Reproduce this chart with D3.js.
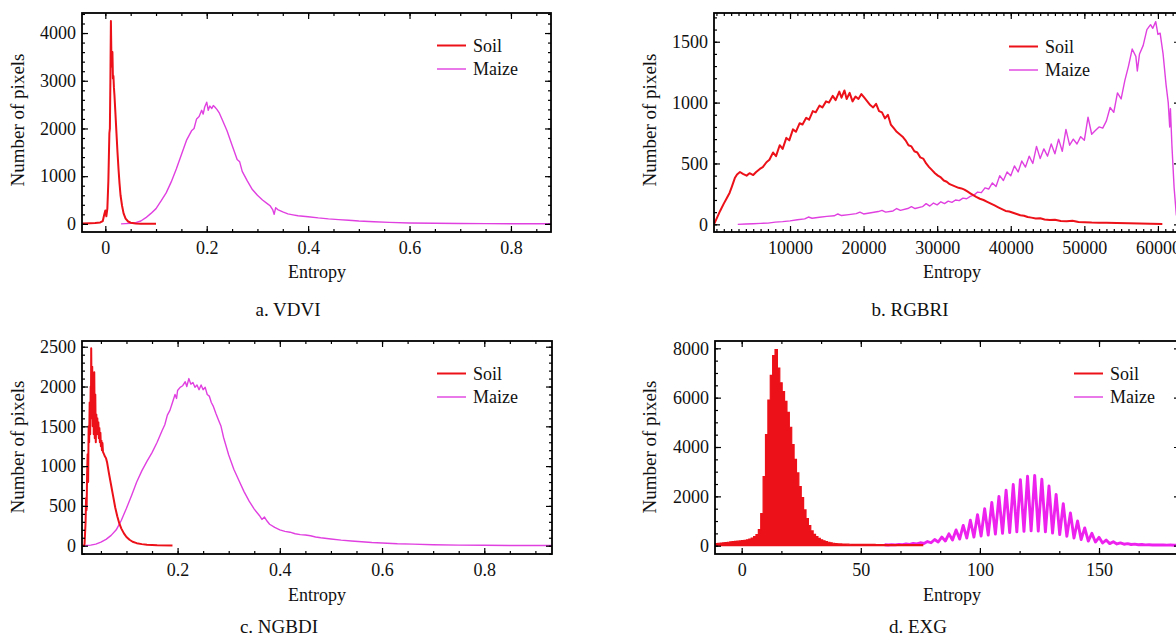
<!DOCTYPE html>
<html>
<head>
<meta charset="utf-8">
<script src="https://cdn.jsdelivr.net/npm/d3@7"></script>
<style>
  body { margin: 0; background: #fff; }
  svg { display: block; font-family: "Liberation Serif", "Times New Roman", serif; }
</style>
</head>
<body>
<svg id="chart" width="1176" height="639"></svg>
<script>
// ---- data ----
var seriesNames = ["Soil", "Maize"];
var captions = ["a. VDVI", "b. RGBRI", "c. NGBDI", "d. EXG"];
var xTitle = "Entropy";
var yTitle = "Number of pixels";

var vdviXTicks = [0, 0.2, 0.4, 0.6, 0.8];
var vdviYTicks = [0, 1000, 2000, 3000, 4000];
var rgbriXTicks = [10000, 20000, 30000, 40000, 50000, 60000];
var rgbriYTicks = [0, 500, 1000, 1500];
var ngbdiXTicks = [0.2, 0.4, 0.6, 0.8];
var ngbdiYTicks = [0, 500, 1000, 1500, 2000, 2500];
var exgXTicks = [0, 50, 100, 150];
var exgYTicks = [0, 2000, 4000, 6000, 8000];

var vdviSoil = [[-0.046, 10], [-0.03, 15], [-0.02, 20], [-0.01, 30], [-0.005, 60], [-0.002, 200], [0.0, 280],
  [0.002, 160], [0.004, 320], [0.006, 900], [0.007, 1400], [0.008, 1900], [0.009, 2000], [0.010, 3000],
  [0.011, 4250], [0.012, 3500], [0.013, 3300], [0.014, 3600], [0.015, 3050], [0.016, 3100], [0.017, 2850],
  [0.018, 2700], [0.020, 2300], [0.022, 1900], [0.024, 1500], [0.026, 1150], [0.028, 850], [0.030, 600],
  [0.033, 380], [0.036, 220], [0.040, 110], [0.045, 50], [0.050, 25], [0.060, 10], [0.070, 5], [0.080, 3],
  [0.090, 2], [0.100, 2]];

var vdviMaize = [[0.031, 0], [0.04, 5], [0.05, 12], [0.06, 25], [0.07, 60], [0.08, 130], [0.09, 220], [0.10, 320],
  [0.11, 480], [0.12, 650], [0.13, 880], [0.14, 1150], [0.15, 1450], [0.16, 1750], [0.165, 1850], [0.17, 1950],
  [0.175, 2000], [0.18, 2200], [0.185, 2250], [0.19, 2380], [0.193, 2300], [0.196, 2450], [0.2, 2550],
  [0.203, 2380], [0.206, 2470], [0.21, 2420], [0.213, 2480], [0.216, 2450], [0.22, 2400], [0.225, 2320],
  [0.23, 2200], [0.24, 1950], [0.25, 1650], [0.26, 1350], [0.265, 1300], [0.27, 1100], [0.28, 900], [0.29, 720],
  [0.30, 600], [0.31, 500], [0.32, 420], [0.325, 380], [0.33, 300], [0.333, 200], [0.336, 340], [0.34, 300],
  [0.35, 250], [0.36, 210], [0.37, 190], [0.38, 170], [0.40, 150], [0.42, 125], [0.44, 105], [0.46, 90],
  [0.48, 75], [0.50, 60], [0.53, 45], [0.56, 32], [0.60, 20], [0.65, 12], [0.70, 8], [0.75, 5], [0.80, 3],
  [0.879, 2]];

var rgbriSoil = [[-330, 0], [500, 110], [1000, 170], [1400, 215], [1800, 260], [2100, 310], [2500, 380], [2800, 410],
  [3200, 430], [3600, 415], [4100, 400], [4500, 420], [5000, 405], [5400, 430], [5900, 455], [6300, 470],
  [6800, 510], [7200, 530], [7700, 590], [8100, 560], [8600, 650], [9000, 620], [9500, 710], [9900, 690],
  [10400, 780], [10800, 760], [11300, 830], [11700, 820], [12200, 875], [12600, 860], [13100, 930], [13500, 920],
  [14000, 975], [14400, 960], [14900, 1010], [15300, 1000], [15800, 1055], [16200, 1020], [16700, 1090],
  [17000, 1040], [17400, 1100], [17700, 1030], [18100, 1080], [18500, 1010], [18900, 1050], [19300, 1030],
  [19700, 1070], [20100, 1040], [20500, 1010], [20900, 980], [21300, 960], [21700, 990], [22100, 930],
  [22500, 920], [22900, 870], [23300, 900], [23700, 820], [24100, 790], [24500, 760], [24900, 740],
  [25300, 720], [25700, 690], [26100, 650], [26500, 640], [26900, 600], [27300, 590], [27700, 550],
  [28100, 540], [28500, 500], [28900, 470], [29300, 445], [29700, 420], [30100, 400], [30500, 385],
  [30900, 360], [31300, 350], [31700, 330], [32100, 320], [32500, 310], [32900, 300], [33300, 295],
  [33700, 285], [34100, 270], [34500, 255], [34900, 240], [35300, 225], [35800, 210], [36300, 200],
  [36800, 185], [37300, 170], [37800, 155], [38300, 140], [38800, 125], [39300, 110], [39800, 105],
  [40300, 95], [40800, 85], [41300, 75], [41800, 70], [42300, 60], [42800, 55], [43400, 48], [44000, 50],
  [44600, 40], [45300, 35], [46000, 38], [46800, 28], [47600, 25], [48400, 30], [49200, 20], [50000, 18],
  [51000, 15], [52000, 14], [53000, 12], [54400, 10], [56000, 8], [57500, 6], [59000, 4], [60600, 3]];

var rgbriMaize = [[2900, 0], [4000, 3], [5000, 5], [6000, 8], [7000, 10], [8000, 18], [9000, 22], [10000, 28],
  [11000, 38], [12000, 45], [12500, 60], [13000, 50], [14000, 58], [15000, 65], [16000, 70], [16500, 85],
  [17000, 72], [18000, 80], [19000, 88], [19500, 100], [20000, 85], [21000, 95], [22000, 105], [22500, 115],
  [23000, 100], [24000, 110], [24500, 130], [25000, 115], [26000, 130], [26500, 145], [27000, 130],
  [28000, 145], [28500, 170], [29000, 150], [29500, 175], [30000, 160], [30500, 185], [31000, 170],
  [31500, 190], [32000, 180], [32500, 200], [33000, 195], [33500, 215], [34000, 210], [34500, 230],
  [35000, 240], [35500, 265], [36000, 260], [36500, 300], [37000, 290], [37500, 340], [38000, 310],
  [38500, 400], [39000, 360], [39500, 430], [40000, 400], [40500, 480], [41000, 430], [41500, 520],
  [42000, 470], [42500, 560], [43000, 500], [43500, 640], [44000, 540], [44500, 620], [45000, 560],
  [45500, 660], [46000, 580], [46500, 700], [47000, 600], [47500, 780], [48000, 650], [48500, 700],
  [49000, 660], [49500, 720], [50000, 690], [50500, 880], [51000, 740], [51500, 770], [52000, 800],
  [52500, 790], [53000, 850], [53500, 960], [54000, 920], [54500, 1080], [55000, 1030], [55500, 1180],
  [56000, 1300], [56500, 1440], [57000, 1380], [57200, 1260], [57500, 1400], [58000, 1470], [58500, 1600],
  [59000, 1640], [59300, 1610], [59700, 1665], [60000, 1560], [60300, 1570], [60700, 1400], [61100, 1150],
  [61400, 1000], [61600, 800], [61700, 950], [61900, 650], [62200, 300], [62500, 80], [62800, 0]];

var ngbdiSoil = [[0.013, 0], [0.0165, 0], [0.018, 20], [0.020, 300], [0.021, 600], [0.022, 450], [0.023, 900],
  [0.024, 1150], [0.025, 800], [0.026, 1500], [0.027, 1300], [0.028, 1800], [0.029, 1400], [0.030, 2000],
  [0.0305, 1600], [0.031, 2480], [0.032, 1700], [0.033, 2250], [0.034, 1500], [0.035, 2150], [0.036, 1400],
  [0.037, 2180], [0.038, 1350], [0.039, 1900], [0.040, 1300], [0.041, 1650], [0.042, 1450], [0.043, 1600],
  [0.044, 1400], [0.045, 1550], [0.046, 1350], [0.047, 1480], [0.048, 1300], [0.049, 1420], [0.050, 1250],
  [0.051, 1320], [0.052, 1200], [0.053, 1290], [0.054, 1180], [0.056, 1150], [0.058, 1120], [0.060, 1100],
  [0.062, 1050], [0.066, 900], [0.070, 760], [0.074, 620], [0.078, 480], [0.082, 370], [0.086, 280],
  [0.090, 215], [0.095, 155], [0.100, 110], [0.106, 75], [0.112, 50], [0.120, 32], [0.130, 20], [0.140, 12],
  [0.160, 6], [0.190, 3]];

var ngbdiMaize = [[0.013, 0], [0.02, 2], [0.03, 8], [0.04, 20], [0.05, 45], [0.06, 80], [0.07, 130], [0.08, 200],
  [0.09, 320], [0.10, 470], [0.11, 630], [0.12, 800], [0.13, 940], [0.14, 1060], [0.15, 1170], [0.16, 1300],
  [0.17, 1450], [0.175, 1520], [0.18, 1640], [0.185, 1700], [0.19, 1800], [0.195, 1900], [0.198, 1850],
  [0.2, 1950], [0.205, 1990], [0.21, 2010], [0.215, 2060], [0.218, 2000], [0.222, 2100], [0.226, 2030],
  [0.23, 2050], [0.234, 1990], [0.238, 2020], [0.242, 1960], [0.246, 2020], [0.25, 1960], [0.254, 1990],
  [0.258, 1900], [0.262, 1880], [0.266, 1800], [0.27, 1750], [0.275, 1660], [0.28, 1580], [0.285, 1500],
  [0.29, 1360], [0.295, 1250], [0.30, 1140], [0.31, 960], [0.32, 820], [0.33, 680], [0.34, 560], [0.35, 460],
  [0.36, 380], [0.365, 330], [0.37, 360], [0.375, 310], [0.38, 270], [0.39, 230], [0.40, 200], [0.41, 180],
  [0.42, 170], [0.43, 150], [0.44, 140], [0.45, 135], [0.46, 125], [0.47, 110], [0.48, 100], [0.50, 85],
  [0.52, 70], [0.54, 60], [0.56, 50], [0.58, 40], [0.60, 35], [0.63, 25], [0.66, 20], [0.70, 12], [0.75, 8],
  [0.80, 5], [0.85, 3], [0.9325, 2]];

// EXG soil histogram: one count per integer bin from -11 to 76
var exgSoilBins = d3.range(-11, 77);
var exgSoilCounts = [
  90, 100, 110, 120, 130, 140, 155, 165, 175, 185,
  195, 205, 220, 240, 270, 310, 370, 450, 650, 1300,
  2800, 4500, 5900, 6900, 7700, 7950, 7200, 6600, 6250, 5850,
  5400, 4800, 4100, 3500, 2950, 2400, 1950, 1450, 1100, 820,
  600, 460, 370, 300, 240, 200, 165, 140, 120, 100,
  90, 80, 72, 68, 65, 62, 60, 58, 57, 56,
  55, 54, 54, 53, 52, 52, 51, 50, 50, 49,
  48, 48, 47, 47, 46, 46, 45, 45, 44, 44,
  43, 43, 42, 42, 41, 41, 40, 40];

// EXG maize: comb-shaped histogram, upper peaks and the troughs between them
var exgMaizePeaks = [[60, 40], [63, 45], [66, 55], [69, 70], [72, 90], [75, 120], [78, 170], [81, 250], [84, 350],
  [87, 480], [90, 640], [93, 820], [96, 1030], [99, 1260], [102, 1500], [105, 1750], [108, 2000], [111, 2250],
  [114, 2480], [117, 2680], [120, 2820], [123, 2850], [126, 2700], [129, 2420], [132, 2080], [135, 1700],
  [138, 1330], [141, 1000], [144, 720], [147, 500], [150, 340], [153, 230], [156, 160], [159, 115], [162, 85],
  [165, 65], [168, 50], [171, 40], [174, 35], [177, 30], [180, 28], [183, 25], [186, 22]];
var exgMaizeTroughs = [[61.5, 30], [64.5, 35], [67.5, 42], [70.5, 55], [73.5, 70], [76.5, 90], [79.5, 120],
  [82.5, 150], [85.5, 190], [88.5, 230], [91.5, 270], [94.5, 310], [97.5, 350], [100.5, 390], [103.5, 430],
  [106.5, 470], [109.5, 500], [112.5, 530], [115.5, 560], [118.5, 580], [121.5, 600], [124.5, 590],
  [127.5, 560], [130.5, 510], [133.5, 450], [136.5, 380], [139.5, 310], [142.5, 250], [145.5, 190],
  [148.5, 150], [151.5, 110], [154.5, 85], [157.5, 70], [160.5, 60], [163.5, 48], [166.5, 40], [169.5, 34],
  [172.5, 30], [175.5, 26], [178.5, 24], [181.5, 21], [184.5, 19]];

var soilColor = "#ec1018";
var maizeColor = "#e040e0";

// ---- drawing ----
var svg = d3.select("#chart");
var fmt = function (d) { return String(d); };

function minorTicks(domain, step) {
  return d3.range(Math.ceil(domain[0] / step - 1e-9), Math.floor(domain[1] / step + 1e-9) + 1)
    .map(function (k) { return +(k * step).toFixed(6); });
}

function styleAxis(sel) {
  sel.select(".domain").remove();
  sel.selectAll(".tick line").attr("stroke", "#000").attr("stroke-width", 1.2);
  sel.selectAll("text").attr("font-family", "Liberation Serif, Times New Roman, serif")
    .attr("font-size", 18).attr("fill", "#111");
  sel.attr("font-family", null).attr("font-size", null);
}

function drawPanel(p) {
  var left = p.box[0], right = p.box[1], top = p.box[2], bottom = p.box[3];
  var x = d3.scaleLinear().domain(p.xDomain).range([left, right]);
  var y = d3.scaleLinear().domain(p.yDomain).range([bottom, top]);
  var g = svg.append("g");

  g.append("clipPath").attr("id", "clip-" + p.id)
    .append("rect").attr("x", left).attr("y", top)
    .attr("width", right - left).attr("height", bottom - top);
  var plot = g.append("g").attr("clip-path", "url(#clip-" + p.id + ")");

  var line = d3.line().x(function (d) { return x(d[0]); }).y(function (d) { return y(d[1]); });

  p.series.forEach(function (s) {
    if (s.kind === "step") {
      var area = d3.area().curve(d3.curveStepAfter)
        .x(function (d) { return x(d[0]); }).y0(y(0)).y1(function (d) { return y(d[1]); });
      plot.append("path").datum(s.data).attr("d", area)
        .attr("fill", s.color).attr("stroke", s.color).attr("stroke-width", 1.2);
    } else {
      plot.append("path").datum(s.data).attr("d", line)
        .attr("fill", "none").attr("stroke", s.color).attr("stroke-width", s.width)
        .attr("stroke-linejoin", "round");
    }
  });

  var xMinor = minorTicks(p.xDomain, p.xMinor);
  var yMinor = minorTicks(p.yDomain, p.yMinor);

  // bottom
  g.append("g").attr("transform", "translate(0," + bottom + ")")
    .call(d3.axisBottom(x).tickValues(p.xTicks).tickFormat(fmt).tickSizeInner(-6).tickSizeOuter(0).tickPadding(9))
    .call(styleAxis);
  g.append("g").attr("transform", "translate(0," + bottom + ")")
    .call(d3.axisBottom(x).tickValues(xMinor).tickFormat("").tickSizeInner(-3).tickSizeOuter(0))
    .call(styleAxis);
  // top
  g.append("g").attr("transform", "translate(0," + top + ")")
    .call(d3.axisTop(x).tickValues(p.xTicks).tickFormat("").tickSizeInner(-6).tickSizeOuter(0))
    .call(styleAxis);
  g.append("g").attr("transform", "translate(0," + top + ")")
    .call(d3.axisTop(x).tickValues(xMinor).tickFormat("").tickSizeInner(-3).tickSizeOuter(0))
    .call(styleAxis);
  // left
  g.append("g").attr("transform", "translate(" + left + ",0)")
    .call(d3.axisLeft(y).tickValues(p.yTicks).tickFormat(fmt).tickSizeInner(-6).tickSizeOuter(0).tickPadding(6))
    .call(styleAxis);
  g.append("g").attr("transform", "translate(" + left + ",0)")
    .call(d3.axisLeft(y).tickValues(yMinor).tickFormat("").tickSizeInner(-3).tickSizeOuter(0))
    .call(styleAxis);
  // right
  g.append("g").attr("transform", "translate(" + right + ",0)")
    .call(d3.axisRight(y).tickValues(p.yTicks).tickFormat("").tickSizeInner(-6).tickSizeOuter(0))
    .call(styleAxis);
  g.append("g").attr("transform", "translate(" + right + ",0)")
    .call(d3.axisRight(y).tickValues(yMinor).tickFormat("").tickSizeInner(-3).tickSizeOuter(0))
    .call(styleAxis);

  g.append("rect").attr("x", left).attr("y", top)
    .attr("width", right - left).attr("height", bottom - top)
    .attr("fill", "none").attr("stroke", "#000").attr("stroke-width", 1.8);

  // legend
  var legendColors = [soilColor, maizeColor];
  var legendWidths = [2, 1.4];
  seriesNames.forEach(function (name, i) {
    var ly = p.legend[1] + i * 23.5;
    g.append("line").attr("x1", p.legend[0]).attr("x2", p.legend[0] + 29)
      .attr("y1", ly).attr("y2", ly)
      .attr("stroke", legendColors[i]).attr("stroke-width", legendWidths[i]);
    g.append("text").attr("x", p.legend[0] + 36).attr("y", ly).attr("dy", "0.34em")
      .attr("font-size", 18).attr("fill", "#111").text(name);
  });

  // axis titles and caption
  g.append("text").attr("x", p.xTitle[0]).attr("y", p.xTitle[1])
    .attr("text-anchor", "middle").attr("font-size", 18).attr("fill", "#111").text(xTitle);
  g.append("text").attr("transform", "translate(" + p.yTitle[0] + "," + p.yTitle[1] + ") rotate(-90)")
    .attr("text-anchor", "middle").attr("dy", "0.34em").attr("font-size", 19).attr("fill", "#111").text(yTitle);
  g.append("text").attr("x", p.caption[0]).attr("y", p.caption[1])
    .attr("text-anchor", "middle").attr("font-size", 19).attr("fill", "#111").text(p.captionText);
}

var exgSoil = exgSoilBins.map(function (b, i) { return [b, exgSoilCounts[i]]; });
var exgMaize = exgMaizePeaks.concat(exgMaizeTroughs).sort(function (a, b) { return a[0] - b[0]; });

drawPanel({
  id: "a", box: [82, 551, 13, 232], xDomain: [-0.046, 0.879], yDomain: [-170, 4420],
  xTicks: vdviXTicks, yTicks: vdviYTicks, xMinor: 0.05, yMinor: 200,
  series: [
    { data: vdviMaize, color: maizeColor, width: 1.4 },
    { data: vdviSoil, color: soilColor, width: 2 }
  ],
  legend: [437, 45.5], xTitle: [317, 278], yTitle: [18, 120], caption: [288, 316], captionText: captions[0]
});

drawPanel({
  id: "b", box: [714, 1180, 13, 232], xDomain: [-330, 63000], yDomain: [-63, 1736],
  xTicks: rgbriXTicks, yTicks: rgbriYTicks, xMinor: 1000, yMinor: 100,
  series: [
    { data: rgbriMaize, color: maizeColor, width: 1.4 },
    { data: rgbriSoil, color: soilColor, width: 2 }
  ],
  legend: [1009, 46.5], xTitle: [952, 278], yTitle: [650, 120], caption: [910, 316], captionText: captions[1]
});

drawPanel({
  id: "c", box: [82, 552, 341, 554], xDomain: [0.013, 0.9325], yDomain: [-104, 2572],
  xTicks: ngbdiXTicks, yTicks: ngbdiYTicks, xMinor: 0.05, yMinor: 100,
  series: [
    { data: ngbdiMaize, color: maizeColor, width: 1.4 },
    { data: ngbdiSoil, color: soilColor, width: 2 }
  ],
  legend: [437, 373.5], xTitle: [317, 601], yTitle: [18, 447], caption: [279, 633], captionText: captions[2]
});

drawPanel({
  id: "d", box: [715, 1180, 341, 554], xDomain: [-11.2, 184], yDomain: [-336, 8296],
  xTicks: exgXTicks, yTicks: exgYTicks, xMinor: 50 / 3, yMinor: 500,
  series: [
    { data: exgMaize, color: "#ee22ee", width: 2.9 },
    { data: exgSoil, color: soilColor, kind: "step" }
  ],
  legend: [1074, 373.5], xTitle: [952, 601], yTitle: [650, 447], caption: [918, 633], captionText: captions[3]
});
</script>
</body>
</html>
